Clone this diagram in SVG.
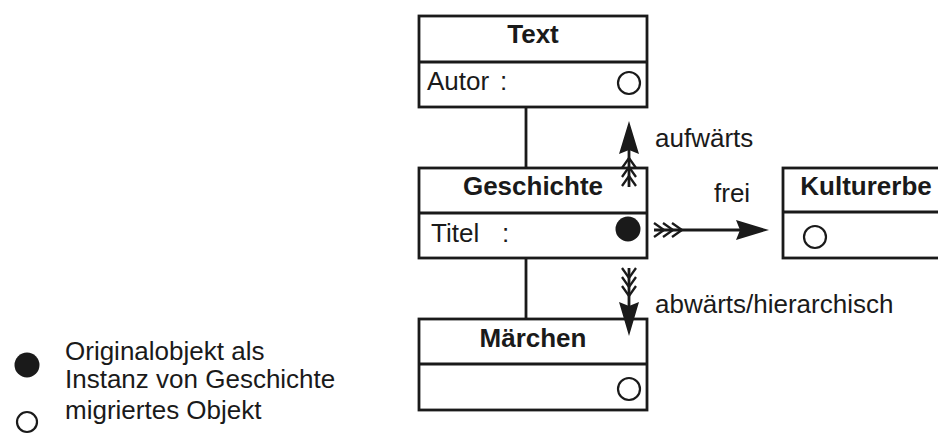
<svg xmlns="http://www.w3.org/2000/svg" width="938" height="435" viewBox="0 0 938 435">
<style>
.box{fill:#fff;stroke:#1a1a1a;stroke-width:2.8}
.div{stroke:#1a1a1a;stroke-width:2.8}
.t{font-family:"Liberation Sans",Arial,sans-serif;font-size:26px;fill:#1a1a1a}
.b{font-weight:bold;text-anchor:middle}
.open{fill:#fff;stroke:#1a1a1a;stroke-width:2.2}
.full{fill:#1a1a1a}
.ln{stroke:#1a1a1a;stroke-width:2.8;fill:none}
.fe{stroke:#1a1a1a;stroke-width:2.3;fill:none}
.ah{fill:#1a1a1a}
</style>
<g id="node-text">
<rect class="box" x="419" y="16" width="228" height="91"/>
<line class="div" x1="419" y1="62" x2="647" y2="62"/>
<text class="t b" x="533" y="43">Text</text>
<text class="t" x="427" y="90">Autor <tspan x="500">:</tspan></text>
<circle class="open" cx="629" cy="83" r="11"/>
</g>
<g id="node-geschichte">
<rect class="box" x="419" y="168" width="228" height="90"/>
<line class="div" x1="419" y1="213" x2="647" y2="213"/>
<text class="t b" x="533" y="195">Geschichte</text>
<text class="t" x="431" y="242">Titel <tspan x="502">:</tspan></text>
<circle class="full" cx="628" cy="229" r="12.5"/>
</g>
<g id="node-maerchen">
<rect class="box" x="419" y="319" width="228" height="91"/>
<line class="div" x1="419" y1="364" x2="647" y2="364"/>
<text class="t b" x="533" y="347">Märchen</text>
<circle class="open" cx="629" cy="389" r="11"/>
</g>
<g id="node-kulturerbe">
<rect class="box" x="783" y="168" width="170" height="90"/>
<line class="div" x1="783" y1="212" x2="940" y2="212"/>
<text class="t b" x="866" y="195">Kulturerbe</text>
<circle class="open" cx="815" cy="237" r="11"/>
</g>
<g id="connectors">
<line class="ln" x1="526" y1="107" x2="526" y2="168"/>
<line class="ln" x1="526" y1="258" x2="526" y2="319"/>
<g id="arrow-up">
<line class="ln" x1="629" y1="150" x2="629" y2="187"/>
<polygon class="ah" points="629,121 639,154 629,150 619,154"/>
<polyline class="fe" points="622,168 629,158 636,168"/>
<polyline class="fe" points="622,177 629,167 636,177"/>
<polyline class="fe" points="622,186 629,176 636,186"/>
</g>
<g id="arrow-right">
<line class="ln" x1="654" y1="230" x2="740" y2="230"/>
<polygon class="ah" points="769,230 736,220 740,230 736,240"/>
<polyline class="fe" points="654,223 664,230 654,237"/>
<polyline class="fe" points="663,223 673,230 663,237"/>
<polyline class="fe" points="672,223 682,230 672,237"/>
</g>
<g id="arrow-down">
<line class="ln" x1="629" y1="268" x2="629" y2="306"/>
<polygon class="ah" points="629,336 619,302 629,306 639,302"/>
<polyline class="fe" points="622,268 629,278 636,268"/>
<polyline class="fe" points="622,277 629,287 636,277"/>
<polyline class="fe" points="622,286 629,296 636,286"/>
</g>
<text class="t" x="655" y="147">aufwärts</text>
<text class="t" x="714" y="202">frei</text>
<text class="t" x="655" y="313">abwärts/hierarchisch</text>
</g>
<g id="legend">
<circle class="full" cx="27" cy="365" r="12.5"/>
<text class="t" x="65" y="360">Originalobjekt als</text>
<text class="t" x="65" y="388">Instanz von Geschichte</text>
<circle class="open" cx="27" cy="422" r="10"/>
<text class="t" x="65" y="419">migriertes Objekt</text>
</g>
</svg>
